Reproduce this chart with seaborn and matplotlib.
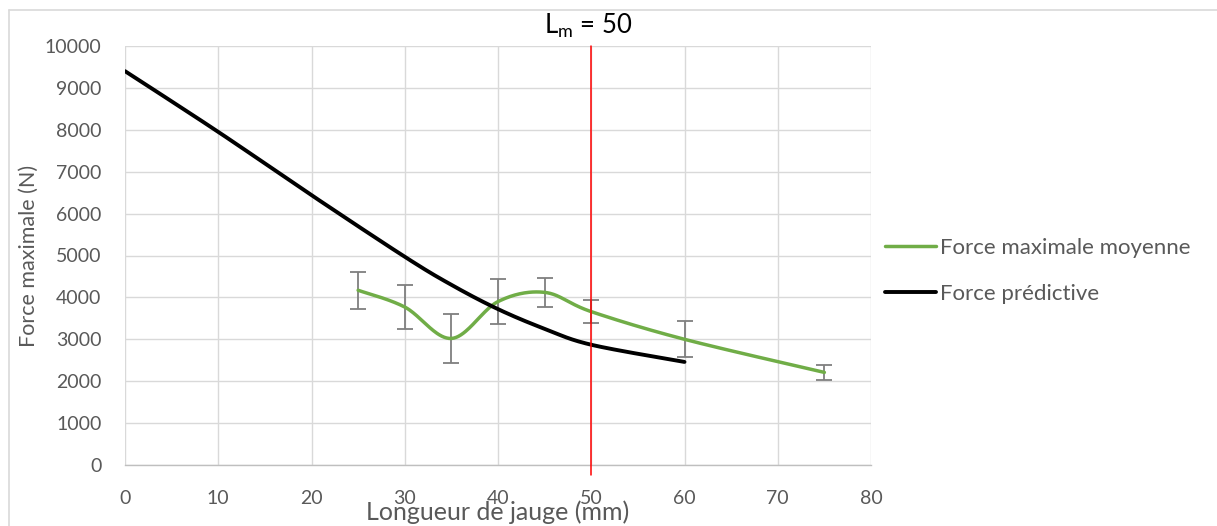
import numpy as np
import pandas as pd
import matplotlib
matplotlib.use("Agg")
import matplotlib.pyplot as plt
import seaborn as sns
from matplotlib.lines import Line2D

# ---- data ----
gauge_len = [25, 30, 35, 40, 45, 50, 60, 75]
force_mean = [4170, 3770, 3020, 3900, 4120, 3660, 3000, 2210]
force_err = [440, 520, 580, 530, 350, 270, 425, 180]

pred_len = [0, 10, 20, 30, 35, 40, 45, 50, 60]
force_pred = [9400, 7950, 6440, 4970, 4300, 3720, 3250, 2870, 2460]

Lm = 50
series_names = ["Force maximale moyenne", "Force prédictive"]
x_ticks = [0, 10, 20, 30, 40, 50, 60, 70, 80]
y_ticks = [0, 1000, 2000, 3000, 4000, 5000, 6000, 7000, 8000, 9000, 10000]


def smooth(x, y, n=40):
    """Excel-like smoothed line (Catmull-Rom style Bezier) through data points."""
    p = np.column_stack([x, y]).astype(float)
    out = []
    for i in range(len(p) - 1):
        p0 = p[i - 1] if i > 0 else p[i]
        p1, p2 = p[i], p[i + 1]
        p3 = p[i + 2] if i + 2 < len(p) else p[i + 1]
        c1 = p1 + (p2 - p0) / 6.0
        c2 = p2 - (p3 - p1) / 6.0
        t = np.linspace(0, 1, n)[:, None]
        seg = ((1 - t) ** 3) * p1 + 3 * ((1 - t) ** 2) * t * c1 + 3 * (1 - t) * t ** 2 * c2 + t ** 3 * p2
        out.append(seg if i == 0 else seg[1:])
    s = np.vstack(out)
    return s[:, 0], s[:, 1]


sns.set_theme(style="white")
plt.rcParams["font.family"] = ["Lato", "DejaVu Sans"]
plt.rcParams["mathtext.fontset"] = "custom"
plt.rcParams["mathtext.rm"] = "Lato"
plt.rcParams["mathtext.it"] = "Lato"

green = "#70AD47"
gray_txt = "#595959"
grid_c = "#d9d9d9"

fig = plt.figure(figsize=(12.17, 5.26), dpi=100)
ax = fig.add_axes([125 / 1217, 1 - 465 / 526, (871 - 125) / 1217, (465 - 46) / 526])

sx, sy = smooth(gauge_len, force_mean)
df_g = pd.DataFrame({"x": sx, "y": sy})
px, py = smooth(pred_len, force_pred)
df_p = pd.DataFrame({"x": px, "y": py})

ax.errorbar(gauge_len, force_mean, yerr=force_err, fmt="none", ecolor="#7f7f7f",
            elinewidth=1.3, capsize=6, capthick=1.3, zorder=2)
sns.lineplot(data=df_g, x="x", y="y", sort=False, estimator=None, color=green,
             linewidth=2.5, ax=ax, zorder=3)
sns.lineplot(data=df_p, x="x", y="y", sort=False, estimator=None, color="black",
             linewidth=2.8, ax=ax, zorder=3)
ax.axvline(Lm, ymin=-0.024, ymax=1.0, color="red", linewidth=1.1, clip_on=False, zorder=4)

ax.set_xlim(0, 80)
ax.set_ylim(0, 10000)
ax.set_xticks(x_ticks)
ax.set_yticks(y_ticks)
ax.grid(True, color=grid_c, linewidth=1.0)
ax.set_axisbelow(True)
for s in ["left", "top", "right"]:
    ax.spines[s].set_visible(False)
ax.spines["bottom"].set_color("#bfbfbf")
ax.spines["bottom"].set_linewidth(1.0)
ax.tick_params(axis="both", length=0, labelsize=14, colors=gray_txt)
ax.tick_params(axis="x", pad=18)
ax.tick_params(axis="y", pad=17)

ax.set_xlabel("Longueur de jauge (mm)", fontsize=18, color=gray_txt)
ax.set_ylabel("Force maximale (N)", fontsize=15.5, color=gray_txt)
ax.xaxis.set_label_coords(0.5, -0.085)
ax.yaxis.set_label_coords(-0.115, 0.5)

fig.text(588 / 1217, 1 - 26 / 526, r"L$_{\mathrm{m}}$ = 50", fontsize=18.5, color="black",
         ha="center", va="center")

handles = [Line2D([], [], color=green, linewidth=2.5), Line2D([], [], color="black", linewidth=2.8)]
fig.legend(handles, series_names, loc="center left", bbox_to_anchor=(865 / 1217, 1 - 271 / 526),
           frameon=False, fontsize=16, labelcolor=gray_txt, handlelength=2.3,
           handletextpad=0.18, labelspacing=1.15)

# chart area border
fig.add_artist(Line2D([9 / 1217, 9 / 1217], [0, 1 - 10 / 526], transform=fig.transFigure,
                      color="#d9d9d9", linewidth=1.2))
fig.add_artist(Line2D([9 / 1217, 1], [1 - 10 / 526, 1 - 10 / 526], transform=fig.transFigure,
                      color="#d9d9d9", linewidth=1.2))

fig.savefig("out.png", dpi=100, facecolor="white")
